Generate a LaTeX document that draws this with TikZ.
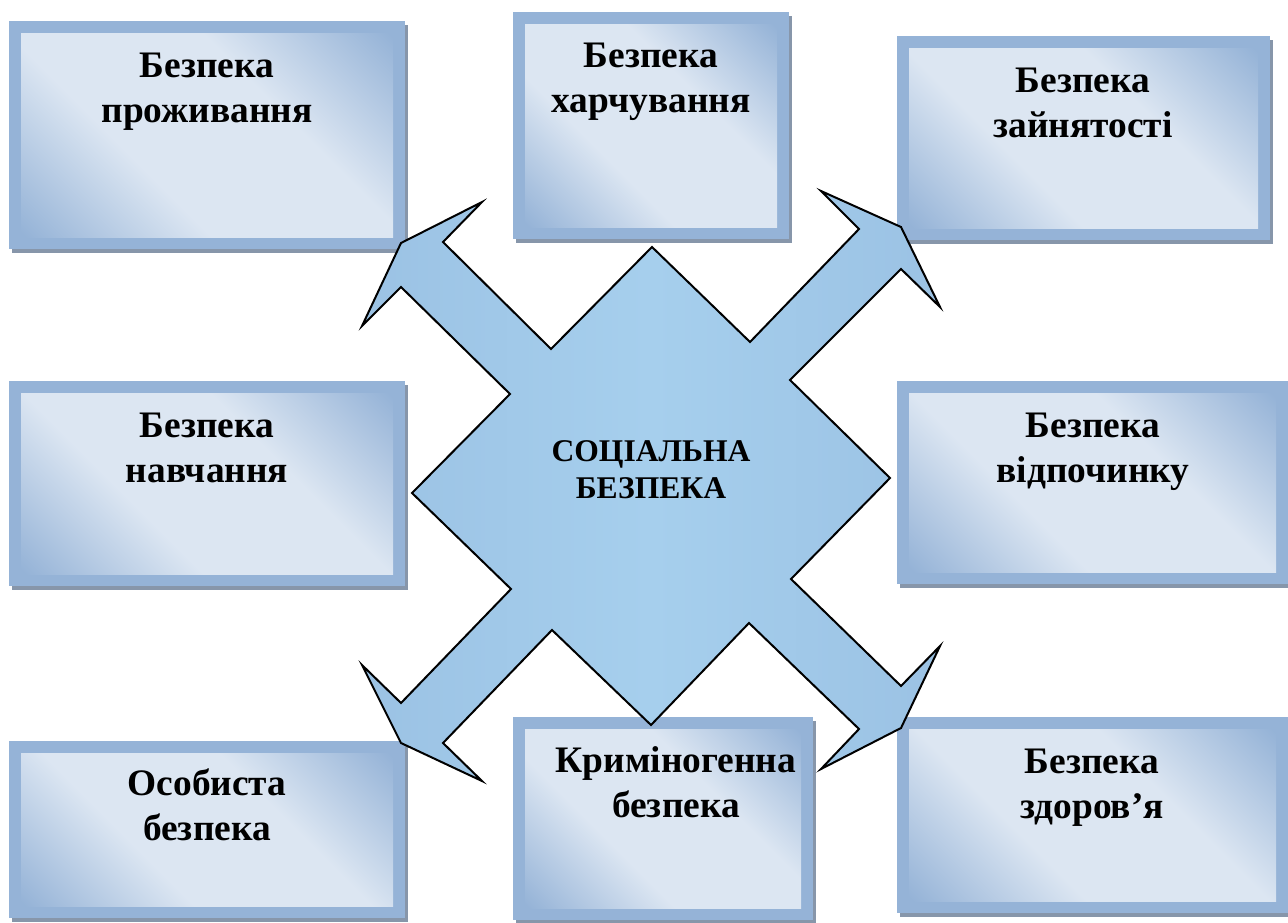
\documentclass[tikz,border=0pt]{standalone}
\usepackage{fontspec}
\setmainfont{Liberation Serif}
\definecolor{boxblue}{RGB}{149,179,215}
\definecolor{boxpale}{RGB}{220,230,242}
\definecolor{boxshadow}{RGB}{135,150,170}
\definecolor{crossdark}{RGB}{155,194,228}
\definecolor{crosslight}{RGB}{166,207,237}
% light band along the box diagonal, blue in two corners
\pgfdeclareverticalshading{boxglow}{100bp}{color(0bp)=(boxblue); color(15bp)=(boxblue); color(38bp)=(boxpale); color(62bp)=(boxpale); color(85bp)=(boxblue); color(100bp)=(boxblue)}
\tikzset{
  box shadow/.style={fill=boxshadow},
  box frame/.style={fill=boxblue},
  box inner/.style={shading=boxglow,shading angle=-45},
  % base = baseline of the second line
  box text/.style={anchor=base,align=center,inner sep=0pt,
    font=\fontsize{18.7}{22.5}\selectfont\bfseries},
  cross/.style={draw=black,line width=1pt,
    left color=crossdark,right color=crossdark,middle color=crosslight},
  cross text/.style={anchor=base,align=center,inner sep=0pt,
    font=\fontsize{15.8}{18.5}\selectfont\bfseries},
}

\begin{document}
\begin{tikzpicture}[x=0.5pt,y=-0.5pt]
\useasboundingbox (0,0) rectangle (1288,922);
% top row
\fill[box shadow] (12,25) rectangle (408,253);
\fill[box frame] (9,21) rectangle (405,249);
\shade[box inner] (21,33) rectangle (393,237);
\node[box text] (living) at (207,122) {Безпека\\проживання};
\fill[box shadow] (516,16) rectangle (792,243);
\fill[box frame] (513,12) rectangle (789,239);
\shade[box inner] (525,24) rectangle (777,227);
\node[box text] (food) at (651,112) {Безпека\\харчування};
\fill[box shadow] (900,40) rectangle (1273,244);
\fill[box frame] (897,36) rectangle (1270,240);
\shade[box inner] (909,48) rectangle (1258,228);
\node[box text] (work) at (1083,137) {Безпека\\зайнятості};
% middle row
\fill[box shadow] (12,385) rectangle (408,590);
\fill[box frame] (9,381) rectangle (405,586);
\shade[box inner] (21,393) rectangle (393,574);
\node[box text] (study) at (207,482) {Безпека\\навчання};
\fill[box shadow] (900,385) rectangle (1291,588);
\fill[box frame] (897,381) rectangle (1288,584);
\shade[box inner] (909,393) rectangle (1276,572);
\node[box text] (rest) at (1093,482) {Безпека\\відпочинку};
% bottom row
\fill[box shadow] (12,745) rectangle (408,922);
\fill[box frame] (9,741) rectangle (405,918);
\shade[box inner] (21,753) rectangle (393,906);
\node[box text] (personal) at (207,840) {Особиста\\безпека};
\fill[box shadow] (516,721) rectangle (816,924);
\fill[box frame] (513,717) rectangle (813,920);
\shade[box inner] (525,729) rectangle (801,908);
\node[box text] (crime) at (676,817) {Криміногенна\\безпека};
\fill[box shadow] (900,721) rectangle (1291,917);
\fill[box frame] (897,717) rectangle (1288,913);
\shade[box inner] (909,729) rectangle (1276,901);
\node[box text] (health) at (1092,818) {Безпека\\здоров’я};
% four-way arrow
\path[cross] (652,247) -- (750,342)
  -- (859,229) -- (821,191) -- (901,227) -- (940,307) -- (901,269)
  -- (790,380) -- (890,478) -- (791,579)
  -- (901,686) -- (940,646) -- (901,728) -- (821,769) -- (859,729)
  -- (749,623) -- (651,725) -- (552,630)
  -- (443,743) -- (482,781) -- (401,743) -- (362,665) -- (401,703)
  -- (511,589) -- (412,493) -- (510,394)
  -- (401,287) -- (362,326) -- (401,243) -- (482,202) -- (443,242)
  -- (551,349) -- cycle;
\node[cross text] (social) at (651,498) {СОЦІАЛЬНА\\БЕЗПЕКА};
\end{tikzpicture}
\end{document}
